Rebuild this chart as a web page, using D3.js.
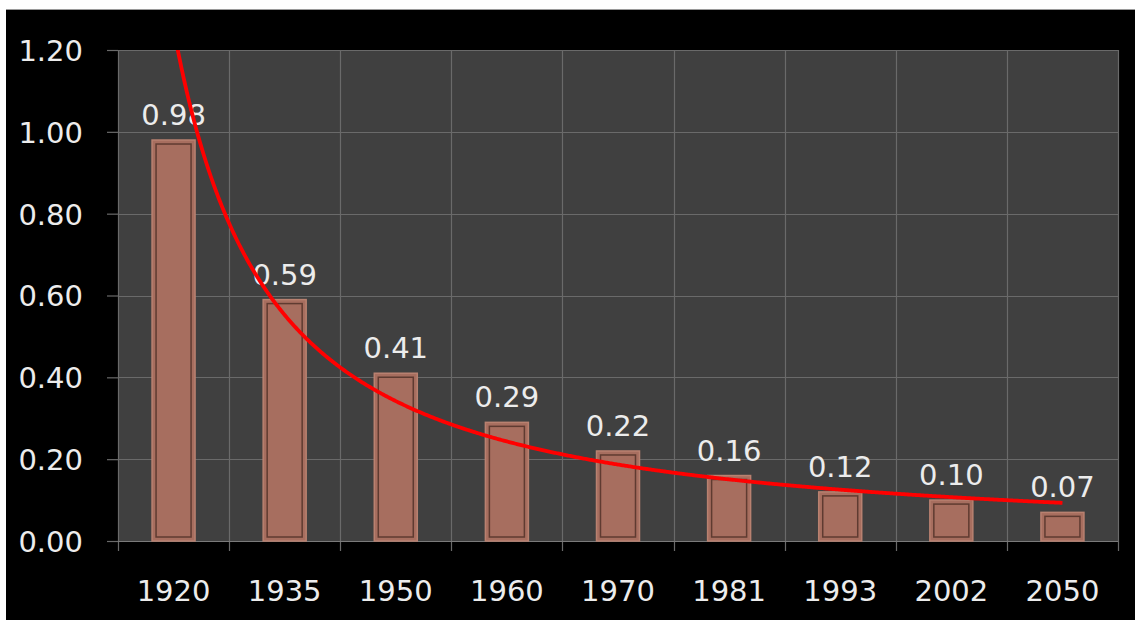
<!DOCTYPE html>
<html><head><meta charset="utf-8">
<script src="https://cdn.jsdelivr.net/npm/d3@7"></script>
<style>html,body{margin:0;padding:0;background:#fff;}svg{display:block;}</style>
</head><body>
<script>
const categories = ["1920","1935","1950","1960","1970","1981","1993","2002","2050"];
const values = [0.98,0.59,0.41,0.29,0.22,0.16,0.12,0.10,0.07];
const labels = ["0.98","0.59","0.41","0.29","0.22","0.16","0.12","0.10","0.07"];
const yTicks = [0,0.2,0.4,0.6,0.8,1.0,1.2];

const W=1135,H=620;
const svg=d3.select("body").append("svg").attr("width",W).attr("height",H);
svg.append("rect").attr("width",W).attr("height",H).attr("fill","#fff");
svg.append("rect").attr("x",6).attr("y",10).attr("width",W-6).attr("height",H-10).attr("fill","#000");
svg.append("line").attr("x1",6).attr("x2",W).attr("y1",9.5).attr("y2",9.5).attr("stroke","#9a9a9a").attr("stroke-width",1);

const m={l:118,r:1118,t:50,b:541};
const x=d3.scaleBand().domain(categories).range([m.l,m.r]).paddingInner(0).paddingOuter(0);
const y=d3.scaleLinear().domain([0,1.2]).range([m.b,m.t]);
const font="'DejaVu Sans', sans-serif";
const fc="#ececec";

svg.append("rect").attr("x",m.l).attr("y",m.t).attr("width",m.r-m.l).attr("height",m.b-m.t).attr("fill","#404040");

// horizontal gridlines
svg.append("g").selectAll("line").data(yTicks.slice(1)).join("line")
  .attr("x1",m.l).attr("x2",m.r).attr("y1",d=>Math.round(y(d))+0.5).attr("y2",d=>Math.round(y(d))+0.5)
  .attr("stroke","#6a6a6a").attr("stroke-width",1.2);
// vertical gridlines at category boundaries
const bounds=categories.map(c=>x(c)).concat([m.r]);
svg.append("g").selectAll("line").data(bounds).join("line")
  .attr("x1",d=>Math.round(d)+0.5).attr("x2",d=>Math.round(d)+0.5).attr("y1",m.t).attr("y2",m.b+10)
  .attr("stroke","#6a6a6a").attr("stroke-width",1.2);

// y axis
const yAxis=d3.axisLeft(y).tickValues(yTicks).tickFormat(d3.format(".2f")).tickSize(11).tickPadding(24);
const ga=svg.append("g").attr("transform",`translate(${m.l},0)`).call(yAxis);
ga.select(".domain").remove();
ga.selectAll(".tick line").attr("stroke","#6a6a6a").attr("stroke-width",1.2);
ga.selectAll(".tick text").attr("fill",fc).attr("font-family",font).attr("font-size",29).attr("dy","0.36em");

// x axis baseline
svg.append("line").attr("x1",m.l).attr("x2",m.r).attr("y1",m.b+0.5).attr("y2",m.b+0.5).attr("stroke","#7a7a7a").attr("stroke-width",1.2);
const xa=d3.axisBottom(x).tickSize(0).tickPadding(0);
const gx=svg.append("g").attr("transform",`translate(0,${m.b})`).call(xa);
gx.select(".domain").remove();
gx.selectAll(".tick text").attr("fill",fc).attr("font-family",font).attr("font-size",29).attr("y",60).attr("dy",0);

// bars
const bw=43;
const bars=svg.append("g").selectAll("g").data(categories).join("g");
bars.append("rect")
  .attr("x",(d)=>x(d)+x.bandwidth()/2-bw/2).attr("width",bw)
  .attr("y",(d,i)=>y(values[i])).attr("height",(d,i)=>y(0)-y(values[i]))
  .attr("fill","#a76e5f").attr("stroke","#b98170").attr("stroke-width",1.5);
bars.append("rect")
  .attr("x",(d)=>x(d)+x.bandwidth()/2-bw/2+4).attr("width",bw-8)
  .attr("y",(d,i)=>y(values[i])+4).attr("height",(d,i)=>Math.max(0,y(0)-y(values[i])-8))
  .attr("fill","none").attr("stroke","#5f3b31").attr("stroke-width",1.5);

// data labels
svg.append("g").selectAll("text").data(categories).join("text")
  .attr("x",d=>x(d)+x.bandwidth()/2).attr("y",(d,i)=>y(values[i])-15)
  .attr("text-anchor","middle").attr("fill",fc).attr("font-family",font).attr("font-size",29)
  .text((d,i)=>labels[i]);

// power trendline (least squares on ln-ln, like a spreadsheet power trendline)
const lx=values.map((v,i)=>Math.log(i+1)), ly=values.map(v=>Math.log(v));
const mx=d3.mean(lx), my=d3.mean(ly);
const b=d3.sum(lx.map((v,i)=>(v-mx)*(ly[i]-my)))/d3.sum(lx.map(v=>(v-mx)*(v-mx)));
const a=Math.exp(my-b*mx);
const xi=d3.scaleLinear().domain([1,categories.length]).range([x(categories[0])+x.bandwidth()/2, x(categories[categories.length-1])+x.bandwidth()/2]);
const pts=d3.range(1,categories.length+0.0001,0.01).map(t=>[xi(t),y(a*Math.pow(t,b))]);
svg.append("clipPath").attr("id","pc").append("rect").attr("x",m.l).attr("y",m.t).attr("width",m.r-m.l).attr("height",m.b-m.t);
svg.append("path").attr("d",d3.line()(pts)).attr("fill","none").attr("stroke","#ff0000").attr("stroke-width",3.8).attr("clip-path","url(#pc)");
</script>
</body></html>
